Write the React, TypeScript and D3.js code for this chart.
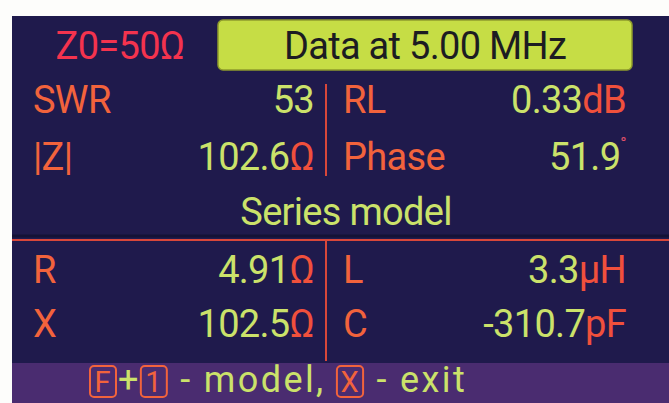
import React, { useEffect, useRef } from 'react';
import * as d3 from 'd3';

// readings shown on the analyzer screen
const topRows = ['r1', 'r2'];
const bottomRows = ['r1', 'r2'];
const columns = ['left', 'right'];

const topLabels = [['SWR', 'RL'], ['|Z|', 'Phase']];
const topValues = [['53', '0.33'], ['102.6', '51.9']];
const topUnits = [['', 'dB'], ['Ω', '°']];

const bottomLabels = [['R', 'L'], ['X', 'C']];
const bottomValues = [['4.91', '3.3'], ['102.5', '-310.7']];
const bottomUnits = [['Ω', 'µH'], ['Ω', 'pF']];

const headerZ0 = 'Z0=50Ω';
const headerTitle = 'Data at 5.00 MHz';
const modelTitle = 'Series model';
const footerParts = [
  { t: 'F', key: true },
  { t: '+', key: false },
  { t: '1', key: true },
  { t: ' - model, ', key: false },
  { t: 'X', key: true },
  { t: ' - exit', key: false },
];

const W = 669, H = 403;

const App = () => {
  const svgRef = useRef(null);

  useEffect(() => {
    const svg = d3.select(svgRef.current);
    svg.selectAll('*').remove();

    const font = 'Roboto, sans-serif';
    const fs = '38px';
    const ls = '-0.7px';
    const labelColor = '#f2633c';
    const valueColor = '#cbe26a';
    const unitColor = '#f0503c';
    const lineColor = '#d8473a';

    const screen = { x: 12, y: 16, w: W - 12, h: H - 16 };

    svg.append('rect').attr('width', W).attr('height', H).attr('fill', '#fdfdfb');
    svg.append('rect')
      .attr('x', screen.x).attr('y', screen.y)
      .attr('width', screen.w).attr('height', screen.h)
      .attr('fill', '#1f1a4c');

    // header
    svg.append('text')
      .attr('x', 120).attr('y', 59)
      .attr('text-anchor', 'middle')
      .style('font-family', font).style('font-size', fs).style('letter-spacing', ls)
      .attr('fill', '#f4334e')
      .text(headerZ0);

    svg.append('rect')
      .attr('x', 218).attr('y', 20).attr('width', 414).attr('height', 50)
      .attr('rx', 5)
      .attr('fill', '#c6dd45').attr('stroke', '#8e9a2c').attr('stroke-width', 1.5);
    svg.append('text')
      .attr('x', 425).attr('y', 59)
      .attr('text-anchor', 'middle')
      .style('font-family', font).style('font-size', fs).style('letter-spacing', ls)
      .attr('fill', '#1c1c22')
      .text(headerTitle);

    // column positions
    const xLabel = d3.scaleOrdinal().domain(columns).range([33, 343]);
    const xValue = d3.scaleOrdinal().domain(columns).range([314, 626]);
    const divX = 326;

    const yTop = d3.scalePoint().domain(topRows).range([113, 170]);
    const yBottom = d3.scalePoint().domain(bottomRows).range([283, 337]);

    const drawBlock = (rows, yScale, labels, values, units) => {
      rows.forEach((r, i) => {
        columns.forEach((c, j) => {
          const y = yScale(r);
          svg.append('text')
            .attr('x', xLabel(c)).attr('y', y)
            .style('font-family', font).style('font-size', fs).style('letter-spacing', ls)
            .attr('fill', labelColor)
            .text(labels[i][j]);

          const unit = units[i][j];
          const t = svg.append('text')
            .attr('x', xValue(c)).attr('y', y)
            .attr('text-anchor', 'end')
            .style('font-family', font).style('font-size', fs).style('letter-spacing', ls);
          t.append('tspan').attr('fill', valueColor).text(values[i][j]);
          if (unit === '°') {
            t.append('tspan').attr('fill', '#e0506a')
              .attr('dy', -21).style('font-size', '17px').text(unit);
          } else if (unit) {
            t.append('tspan').attr('fill', unitColor).text(unit);
          }
        });
      });
    };

    drawBlock(topRows, yTop, topLabels, topValues, topUnits);
    drawBlock(bottomRows, yBottom, bottomLabels, bottomValues, bottomUnits);

    // dividers
    svg.append('line')
      .attr('x1', divX).attr('x2', divX).attr('y1', 84).attr('y2', 176)
      .attr('stroke', lineColor).attr('stroke-width', 2);
    svg.append('line')
      .attr('x1', divX).attr('x2', divX).attr('y1', 240).attr('y2', 361)
      .attr('stroke', lineColor).attr('stroke-width', 2);
    svg.append('line')
      .attr('x1', screen.x).attr('x2', W).attr('y1', 236).attr('y2', 236)
      .attr('stroke', '#141236').attr('stroke-width', 3);
    svg.append('line')
      .attr('x1', screen.x).attr('x2', W).attr('y1', 240).attr('y2', 240)
      .attr('stroke', lineColor).attr('stroke-width', 2);

    svg.append('text')
      .attr('x', 346).attr('y', 225)
      .attr('text-anchor', 'middle')
      .style('font-family', font).style('font-size', fs).style('letter-spacing', ls)
      .attr('fill', valueColor)
      .text(modelTitle);

    // footer bar
    svg.append('rect')
      .attr('x', screen.x).attr('y', 363).attr('width', screen.w).attr('height', H - 363)
      .attr('fill', '#4a2c70');

    let cx = 90;
    const fy = 392;
    footerParts.forEach((p) => {
      const t = svg.append('text')
        .attr('x', cx).attr('y', fy)
        .style('font-family', font).style('font-size', p.key ? '29px' : '36px')
        .style('letter-spacing', p.key ? '0px' : '2.4px')
        .style('white-space', 'pre')
        .attr('fill', p.key ? labelColor : valueColor)
        .text(p.t);
      const w = t.node().getComputedTextLength();
      if (p.key) {
        const bw = Math.max(w + 8, 26);
        t.attr('x', cx + (bw - w) / 2 - 0.5);
        svg.append('rect')
          .attr('x', cx).attr('y', fy - 26).attr('width', bw).attr('height', 31)
          .attr('rx', 4)
          .attr('fill', 'none').attr('stroke', labelColor).attr('stroke-width', 2);
        cx += bw + 2;
      } else {
        cx += w;
      }
    });
  }, []);

  return (
    <svg
      ref={svgRef}
      width={W}
      height={H}
      style={{ position: 'fixed', left: 0, top: 0, display: 'block' }}
    />
  );
};

export default App;
